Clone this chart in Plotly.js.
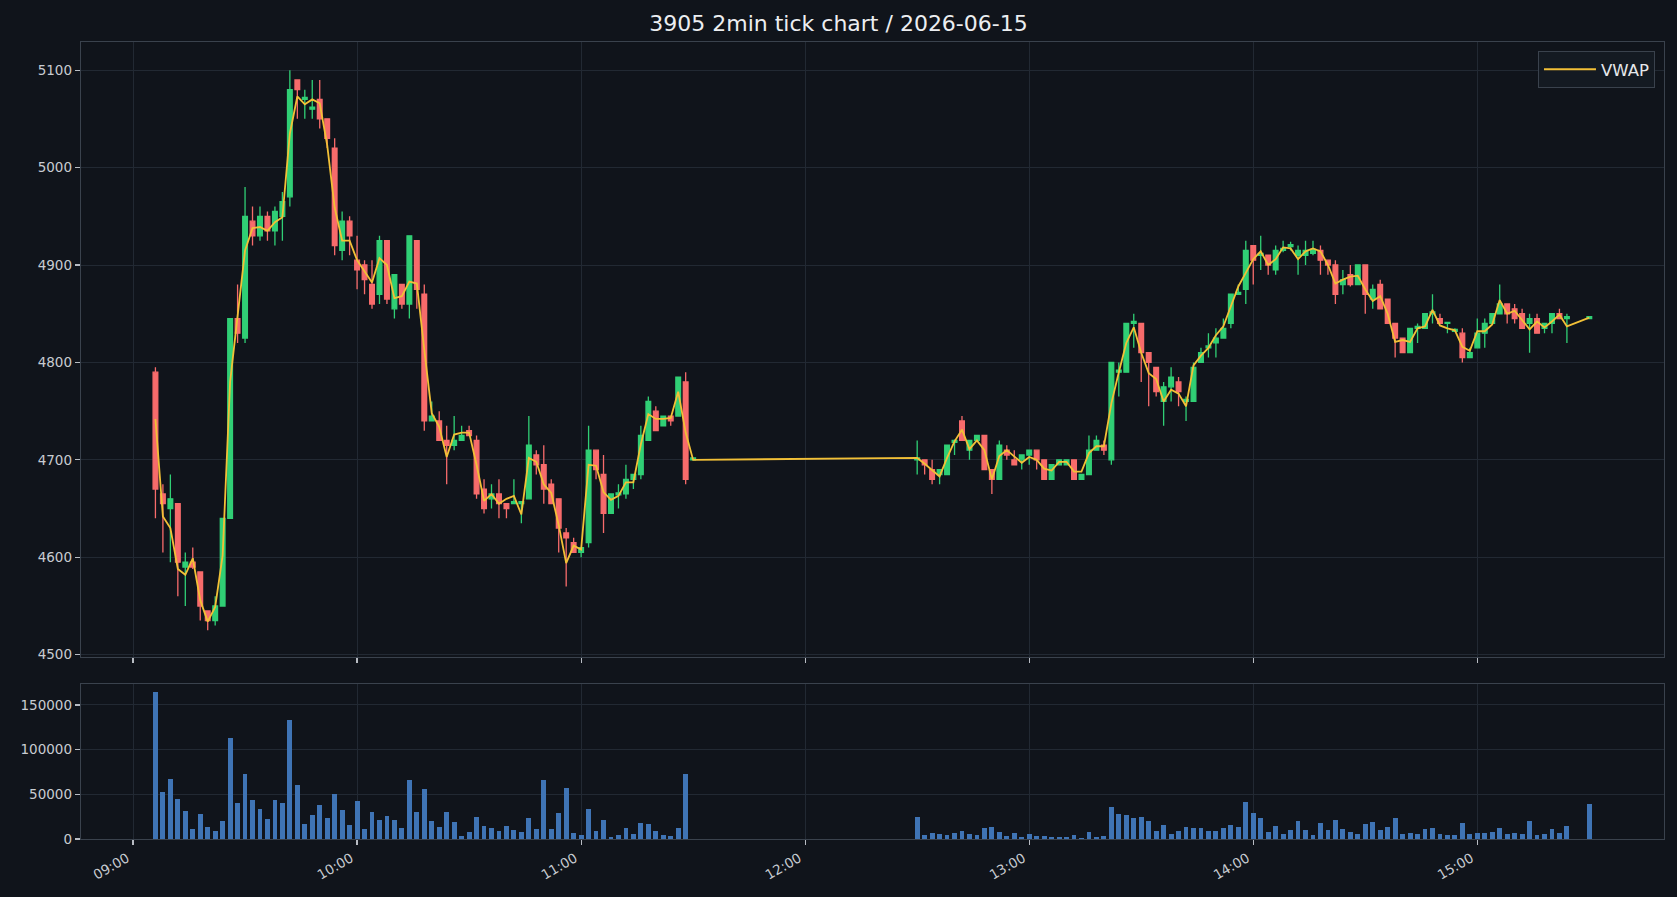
<!DOCTYPE html>
<html><head><meta charset="utf-8">
<script src="https://cdn.plot.ly/plotly-3.0.1.min.js"></script>
<style>html,body{margin:0;padding:0;background:#10141b;}#chart{width:1677px;height:897px;}</style>
</head><body><div id="chart"></div>
<script>
const tradeDate = '2026-06-15';
const times = [
"09:06","09:08","09:10","09:12","09:14","09:16","09:18","09:20","09:22","09:24",
"09:26","09:28","09:30","09:32","09:34","09:36","09:38","09:40","09:42","09:44",
"09:46","09:48","09:50","09:52","09:54","09:56","09:58","10:00","10:02","10:04",
"10:06","10:08","10:10","10:12","10:14","10:16","10:18","10:20","10:22","10:24",
"10:26","10:28","10:30","10:32","10:34","10:36","10:38","10:40","10:42","10:44",
"10:46","10:48","10:50","10:52","10:54","10:56","10:58","11:00","11:02","11:04",
"11:06","11:08","11:10","11:12","11:14","11:16","11:18","11:20","11:22","11:24",
"11:26","11:28","11:30",
"12:30","12:32","12:34","12:36","12:38","12:40","12:42","12:44","12:46","12:48",
"12:50","12:52","12:54","12:56","12:58","13:00","13:02","13:04","13:06","13:08",
"13:10","13:12","13:14","13:16","13:18","13:20","13:22","13:24","13:26","13:28",
"13:30","13:32","13:34","13:36","13:38","13:40","13:42","13:44","13:46","13:48",
"13:50","13:52","13:54","13:56","13:58","14:00","14:02","14:04","14:06","14:08",
"14:10","14:12","14:14","14:16","14:18","14:20","14:22","14:24","14:26","14:28",
"14:30","14:32","14:34","14:36","14:38","14:40","14:42","14:44","14:46","14:48",
"14:50","14:52","14:54","14:56","14:58","15:00","15:02","15:04","15:06","15:08",
"15:10","15:12","15:14","15:16","15:18","15:20","15:22","15:24","15:30"];

const openPx = [
4790,4665,4650,4655,4590,4595,4585,4545,4535,4550,
4640,4845,4825,4945,4930,4950,4935,4950,4970,5090,
5070,5060,5070,5050,5020,4915,4945,4905,4900,4880,
4870,4925,4855,4880,4860,4925,4870,4740,4740,4720,
4715,4720,4730,4720,4670,4660,4665,4655,4655,4655,
4660,4705,4695,4675,4660,4625,4615,4605,4615,4710,
4685,4645,4664,4665,4680,4685,4720,4750,4735,4745,
4745,4780,4700,
4700,4700,4690,4685,4685,4718,4740,4710,4720,4725,
4690,4680,4710,4700,4700,4705,4710,4700,4680,4695,
4695,4700,4680,4685,4710,4715,4700,4790,4790,4840,
4840,4810,4795,4760,4775,4780,4760,4760,4800,4815,
4820,4825,4840,4870,4875,4920,4910,4910,4895,4915,
4919,4910,4910,4912,4915,4905,4900,4880,4890,4880,
4900,4865,4880,4865,4840,4825,4810,4835,4835,4850,
4845,4840,4832,4830,4805,4815,4830,4840,4850,4860,
4855,4850,4840,4845,4835,4840,4850,4845,4845];

const highPx = [
4795,4675,4685,4655,4605,4610,4585,4545,4560,4640,
4845,4880,4980,4960,4960,4955,4960,4975,5100,5090,
5080,5090,5090,5050,5030,4955,4950,4930,4905,4905,
4930,4925,4890,4880,4930,4925,4880,4760,4750,4735,
4745,4735,4735,4725,4680,4675,4680,4655,4680,4657,
4745,4710,4715,4680,4660,4630,4620,4610,4735,4710,
4705,4665,4675,4695,4685,4735,4765,4755,4745,4745,
4785,4790,4702,
4720,4700,4700,4690,4715,4721,4745,4720,4725,4725,
4690,4720,4715,4710,4705,4710,4710,4700,4695,4700,
4700,4700,4685,4725,4725,4720,4800,4800,4840,4850,
4840,4810,4795,4780,4795,4785,4765,4800,4815,4830,
4835,4845,4870,4880,4925,4920,4930,4910,4920,4925,
4924,4920,4925,4925,4920,4905,4905,4895,4900,4900,
4900,4880,4885,4865,4840,4825,4835,4840,4850,4870,
4850,4841,4835,4835,4815,4845,4845,4850,4880,4860,
4860,4855,4850,4850,4840,4850,4855,4850,4847];

const lowPx = [
4640,4605,4595,4560,4550,4588,4535,4525,4530,4550,
4640,4820,4820,4920,4925,4925,4920,4925,4960,5050,
5050,5050,5040,5020,4910,4905,4910,4875,4870,4855,
4860,4860,4845,4855,4845,4855,4730,4740,4720,4675,
4710,4720,4725,4660,4645,4650,4640,4640,4655,4635,
4660,4685,4655,4655,4605,4570,4605,4600,4610,4680,
4625,4645,4650,4660,4670,4680,4720,4730,4735,4735,
4745,4675,4700,
4685,4685,4675,4675,4685,4705,4720,4700,4720,4690,
4665,4680,4700,4695,4690,4695,4690,4680,4680,4695,
4695,4680,4680,4685,4710,4705,4695,4765,4790,4815,
4780,4755,4765,4735,4760,4755,4740,4760,4800,4805,
4805,4825,4835,4870,4860,4880,4895,4890,4890,4913,
4915,4890,4900,4910,4890,4890,4860,4870,4878,4880,
4850,4855,4855,4840,4805,4810,4810,4820,4835,4840,
4840,4830,4832,4800,4805,4815,4815,4840,4850,4840,
4840,4835,4810,4830,4830,4830,4845,4820,4845];

const closePx = [
4670,4655,4660,4595,4595,4590,4550,4535,4550,4640,
4845,4830,4950,4930,4950,4935,4955,4965,5080,5080,
5072,5062,5050,5030,4920,4945,4930,4895,4885,4860,
4925,4865,4890,4860,4930,4875,4740,4745,4720,4715,
4720,4725,4725,4665,4650,4665,4655,4650,4657,4657,
4715,4695,4670,4655,4630,4620,4605,4610,4710,4690,
4645,4665,4666,4680,4685,4725,4760,4730,4745,4740,
4785,4680,4702,
4702,4695,4680,4690,4715,4720,4720,4720,4725,4690,
4680,4715,4705,4695,4705,4710,4700,4680,4695,4700,
4700,4680,4685,4710,4720,4710,4800,4792,4840,4842,
4810,4800,4770,4775,4785,4770,4762,4795,4810,4817,
4825,4835,4870,4872,4915,4905,4912,4900,4915,4917,
4921,4915,4915,4916,4905,4900,4870,4885,4880,4900,
4870,4875,4855,4840,4825,4810,4835,4837,4850,4852,
4840,4841,4834,4805,4810,4830,4840,4850,4860,4850,
4845,4835,4845,4830,4840,4850,4845,4847,4847];

const vwapPx = [
4742,4642,4630,4588,4582,4599,4556,4534,4549,4602,
4780,4845,4915,4938,4939,4935,4944,4949,5035,5073,
5065,5070,5066,5023,4959,4925,4925,4905,4893,4882,
4907,4900,4866,4868,4883,4881,4813,4748,4734,4703,
4726,4728,4728,4695,4658,4665,4655,4660,4663,4644,
4702,4698,4675,4666,4633,4594,4612,4608,4695,4694,
4667,4659,4663,4677,4677,4716,4747,4742,4742,4743,
4770,4728,4700,
4702,4696,4689,4683,4702,4719,4731,4711,4720,4710,
4680,4704,4710,4703,4697,4703,4700,4691,4689,4698,
4698,4688,4688,4707,4714,4714,4758,4790,4820,4836,
4810,4789,4783,4760,4772,4768,4755,4797,4807,4815,
4828,4837,4858,4878,4892,4906,4914,4900,4906,4918,
4917,4906,4914,4917,4914,4900,4881,4885,4888,4889,
4875,4863,4868,4850,4821,4823,4821,4835,4837,4854,
4838,4835,4833,4816,4812,4832,4832,4839,4864,4850,
4853,4843,4834,4842,4836,4842,4849,4837,4846];

const volume = [
165000,53000,67500,45000,31500,11000,28000,13000,8700,20000,
113000,40500,73000,44000,33500,22300,44000,40500,133500,60000,
16500,26800,38000,23500,50500,32500,15500,42500,11000,30000,
21000,25500,21000,12000,66500,30000,56500,20000,13000,30000,
19000,3000,7600,24500,14500,12000,8700,14500,9800,7600,
23500,11000,65500,11000,29000,57500,6400,4200,33500,8700,
21000,1900,4200,12000,5300,17800,16600,8700,4200,3000,
12000,73000,300,
24500,4200,6400,5300,4200,6400,8700,5300,4200,12000,
13000,7600,3000,6400,1900,5300,3000,3000,1900,1900,
1900,4200,800,7600,1900,3000,36000,28000,27000,23500,
24500,20000,8700,15500,5300,8700,13000,12000,12000,8700,
8700,12000,15500,13000,41500,29000,23500,7600,14500,5300,
9800,20000,9800,4200,17800,9800,21000,11000,7600,5300,
16500,19000,9800,13000,23500,5300,6400,5300,11000,12000,
5300,4200,4200,17800,5300,6400,6400,7600,12000,5300,
6400,5300,20000,4200,5300,11000,6400,14500,39500];

const xs = times.map(t => tradeDate + ' ' + t);

const UP = '#30cf75', DOWN = '#f76b6b', VOL = '#3f74b5', VW = '#f2c037';
const BG = '#10141b', GRID = '#222933', FRAME = '#3a424d', TXT = '#c8ccd2';
const FONT = 'DejaVu Sans';

const candle = {
  type: 'candlestick', x: xs, open: openPx, high: highPx, low: lowPx, close: closePx,
  xaxis: 'x', yaxis: 'y', showlegend: false, hoverinfo: 'skip',
  increasing: {line: {color: UP, width: 1.3}, fillcolor: UP},
  decreasing: {line: {color: DOWN, width: 1.3}, fillcolor: DOWN},
  whiskerwidth: 0
};
const vwapLine = {
  type: 'scatter', mode: 'lines', x: xs, y: vwapPx, name: 'VWAP',
  xaxis: 'x', yaxis: 'y', line: {color: VW, width: 1.8}, hoverinfo: 'skip'
};
const volBars = {
  type: 'bar', x: xs, y: volume, xaxis: 'x2', yaxis: 'y2', showlegend: false,
  marker: {color: VOL, line: {width: 0}}, width: 78000, hoverinfo: 'skip'
};

const xRange = [tradeDate + ' 08:46:04', tradeDate + ' 15:50:00'];
const axisCommon = {
  showgrid: true, gridcolor: GRID, gridwidth: 1,
  showline: true, linecolor: FRAME, linewidth: 1.3, mirror: true,
  ticks: 'outside', ticklen: 5, tickwidth: 1.2, tickcolor: '#b8bcc3',
  tickfont: {family: FONT, size: 13.5, color: TXT}, zeroline: false
};

const layout = {
  width: 1677, height: 897,
  paper_bgcolor: BG, plot_bgcolor: BG,
  margin: {l: 81, r: 13, t: 42, b: 58},
  title: {text: '3905 2min tick chart / 2026-06-15', x: 0.5, xanchor: 'center',
          y: 1 - 23.5/897, yanchor: 'middle', font: {family: FONT, size: 22, color: '#eceef1'}},
  showlegend: true,
  legend: {x: 0.9943, xanchor: 'right', y: 0.9887, yanchor: 'top',
           bgcolor: '#141a22', bordercolor: FRAME, borderwidth: 1, itemwidth: 52,
           font: {family: FONT, size: 16.5, color: '#e6e8eb'}},
  boxgap: 0.1,
  bargap: 0,
  xaxis: Object.assign({}, axisCommon, {
    type: 'date', anchor: 'y', domain: [0, 1], range: xRange,
    tick0: tradeDate + ' 00:00', dtick: 3600000, showticklabels: false,
    rangeslider: {visible: false}
  }),
  yaxis: Object.assign({}, axisCommon, {
    anchor: 'x', domain: [0.2284, 1], range: [4497.7, 5128.9], tick0: 0, dtick: 100
  }),
  xaxis2: Object.assign({}, axisCommon, {
    type: 'date', anchor: 'y2', domain: [0, 1], range: xRange, matches: 'x',
    tick0: tradeDate + ' 00:00', dtick: 3600000, tickformat: '%H:%M', tickangle: -30,
    ticklabelshift: -6
  }),
  yaxis2: Object.assign({}, axisCommon, {
    anchor: 'x2', domain: [0, 0.1945], range: [0, 173500],
    tickvals: [0, 50000, 100000, 150000], ticktext: ['0', '50000', '100000', '150000']
  })
};

Plotly.newPlot('chart', [candle, vwapLine, volBars], layout, {staticPlot: true, displayModeBar: false});
</script>
</body></html>
